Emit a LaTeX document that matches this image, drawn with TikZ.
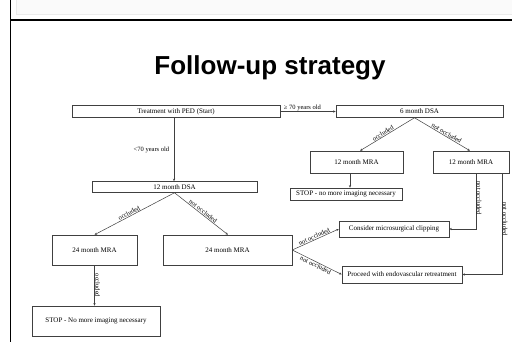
\documentclass[tikz,border=0pt]{standalone}
\usepackage{fontspec}
\setmainfont{Liberation Serif}
\newfontfamily\titlefont{Liberation Sans}
\usetikzlibrary{arrows.meta,calc}
\begin{document}
\begin{tikzpicture}[x=1pt,y=-1pt,
  box/.style={draw=black!75,line width=0.5pt,inner sep=0pt,font=\fontsize{7}{8}\selectfont},
  conn/.style={draw=black!75,line width=0.5pt,-{Stealth[length=2.6pt,width=2.2pt]}},
  lab/.style={font=\fontsize{6.5}{7}\selectfont,inner sep=0.6pt}]
\useasboundingbox (0,0) rectangle (512,342);
\fill[white] (0,0) rectangle (512,342);
% frame
\draw[black!8,fill=black!2,line width=0.5pt] (16,-2) rectangle (514,14.5);
\draw[line width=1.7pt] (10,19.8) -- (512,19.8);
\draw[line width=1pt] (10.8,0) -- (10.8,342);
% title
\node[font=\titlefont\bfseries\fontsize{26}{30}\selectfont,inner sep=0pt] (title) at (270,68) {Follow-up strategy};
% boxes
\node[box,minimum width=208pt,minimum height=12pt] (start) at (176,111.5) {Treatment with PED (Start)};
\node[box,minimum width=167pt,minimum height=12pt] (dsa6) at (419.5,111.5) {6 month DSA};
\node[box,minimum width=165pt,minimum height=11pt] (dsa12) at (174.5,187) {12 month DSA};
\node[box,minimum width=85pt,minimum height=30pt] (mra24a) at (94.5,250) {24 month MRA};
\node[box,minimum width=129pt,minimum height=30pt] (mra24b) at (227.5,250) {24 month MRA};
\node[box,minimum width=128pt,minimum height=30pt] (stopL) at (96,321) {STOP - No more imaging necessary};
\node[box,minimum width=93pt,minimum height=22pt] (mra12a) at (356.5,162) {12 month MRA};
\node[box,minimum width=76pt,minimum height=22pt] (mra12b) at (471,162) {12 month MRA};
\node[box,minimum width=112pt,minimum height=12pt] (stopR) at (346,194) {STOP - no more imaging necessary};
\node[box,minimum width=110pt,minimum height=16pt] (clip) at (394,229) {Consider microsurgical clipping};
\node[box,minimum width=120pt,minimum height=17pt] (proc) at (402,274.5) {Proceed with endovascular retreatment};
% helper coordinates
\coordinate (sdown) at ($(start.south)+(-2,0)$);
\coordinate (d6s) at ($(dsa6.south)+(-5,0)$);
\coordinate (m12a) at ($(mra12a.north)+(3.5,0)$);
\coordinate (m12b) at ($(mra12b.north)+(-1,0)$);
\coordinate (m12as) at ($(mra12a.south)+(-6.5,0)$);
\coordinate (m12bx) at ($(mra12b.south)+(5,0)$);
\coordinate (m12by) at ($(mra12b.south)+(31,0)$);
\coordinate (m24at) at ($(mra24b.north)+(0.5,0)$);
% connectors
\draw[conn] (start.east) -- node[lab,above,pos=0.4] {≥ 70 years old} (dsa6.west);
\draw[conn] (sdown) -- node[lab,left,xshift=-4pt] {<70 years old} (sdown |- dsa12.north);
\draw[conn] (dsa12.south) -- node[lab,above,sloped,pos=0.55] {occluded} (mra24a.north);
\draw[conn] (dsa12.south) -- node[lab,above,sloped,pos=0.5] {not occluded} (m24at);
\draw[conn] (mra24a.south) -- node[lab,right,rotate=-90,anchor=south] {occluded} (mra24a.south |- stopL.north);
\draw[conn] (d6s) -- node[lab,above,sloped,pos=0.55] {occluded} (m12a);
\draw[conn] (d6s) -- node[lab,above,sloped,pos=0.55] {not occluded} (m12b);
\draw[conn] (m12as) -- (m12as |- stopR.north);
\draw[conn] (mra24b.east) -- node[lab,above,sloped] {not occluded} (clip.west);
\draw[conn] (mra24b.east) -- node[lab,below,sloped] {not occluded} (proc.west);
\draw[conn] (m12bx) -- node[lab,rotate=-90,anchor=south,pos=0.45] {not occluded} (m12bx |- clip.east) -- (clip.east);
\draw[conn] (m12by) -- node[lab,rotate=-90,anchor=south,pos=0.45] {not occluded} (m12by |- proc.east) -- (proc.east);
\end{tikzpicture}
\end{document}
